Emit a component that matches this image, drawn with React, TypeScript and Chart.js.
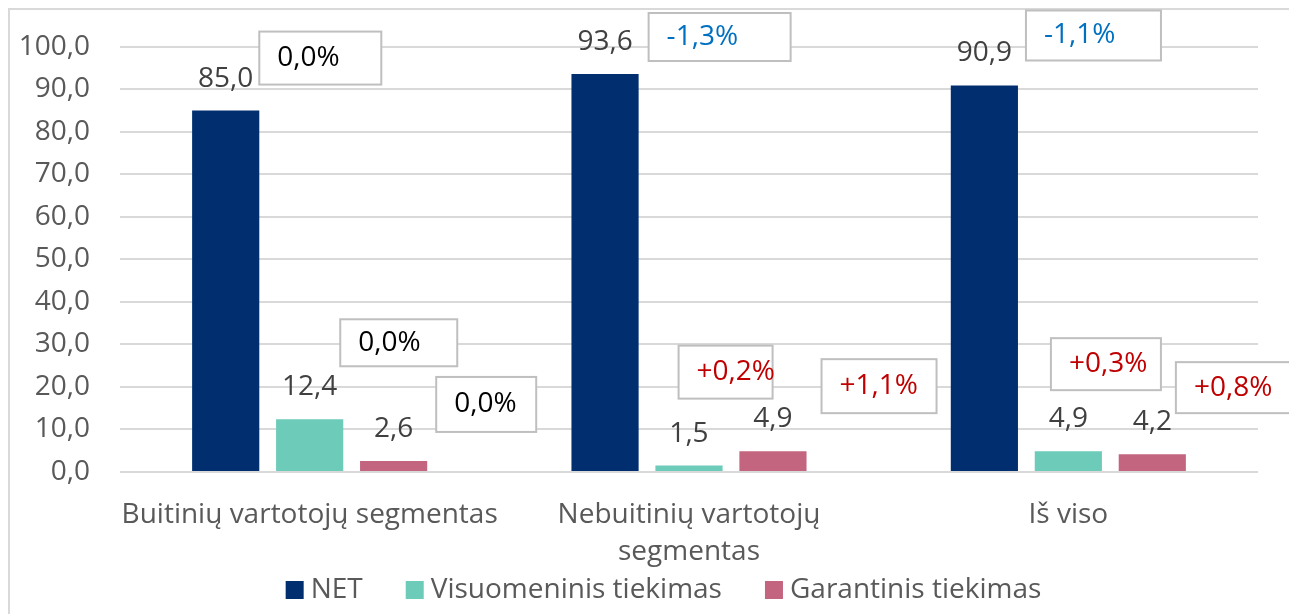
import React, { useEffect, useRef } from "react";
import { Chart, registerables } from "chart.js";

Chart.register(...registerables);

const categories: string[][] = [
  ["Buitinių vartotojų segmentas"],
  ["Nebuitinių vartotojų", "segmentas"],
  ["Iš viso"],
];
const seriesNames = ["NET", "Visuomeninis tiekimas", "Garantinis tiekimas"];
const netValues = [85.0, 93.6, 90.9];
const visValues = [12.4, 1.5, 4.9];
const garValues = [2.6, 4.9, 4.2];
const netChanges = ["0,0%", "-1,3%", "-1,1%"];
const visChanges = ["0,0%", "+0,2%", "+0,3%"];
const garChanges = ["0,0%", "+1,1%", "+0,8%"];
const yTickValues = [0, 10, 20, 30, 40, 50, 60, 70, 80, 90, 100];

const COLORS = ["#002E6E", "#6DCBB9", "#C46580"];
const FONT = "'Open Sans', sans-serif";
const FS = 28;

// annotation box placement relative to each bar's top-right corner (per series, per category)
const boxLayout = [
  [
    { dx: 0, dy: -79, w: 122, h: 53 },
    { dx: 10, dy: -61, w: 142, h: 48 },
    { dx: 8, dy: -75, w: 135, h: 50 },
  ],
  [
    { dx: -3, dy: -100, w: 117, h: 47 },
    { dx: -44, dy: -120, w: 94, h: 53 },
    { dx: -51, dy: -113, w: 110, h: 52 },
  ],
  [
    { dx: 9, dy: -84, w: 100, h: 55 },
    { dx: 15, dy: -92, w: 115, h: 54 },
    { dx: -10, dy: -92, w: 118, h: 51 },
  ],
];

const changes = [netChanges, visChanges, garChanges];

const fmt = (v: number) => v.toFixed(1).replace(".", ",");

const overlay = {
  id: "overlay",
  beforeDraw(chart: any) {
    const ctx = chart.ctx;
    ctx.save();
    ctx.fillStyle = "#ffffff";
    ctx.fillRect(0, 0, chart.width, chart.height);
    ctx.strokeStyle = "#D9D9D9";
    ctx.lineWidth = 2;
    ctx.strokeRect(9, 9, chart.width + 20, chart.height + 20);
    ctx.restore();
  },
  afterDatasetsDraw(chart: any) {
    const ctx = chart.ctx;
    ctx.save();
    ctx.font = `${FS}px ${FONT}`;
    // value labels
    chart.data.datasets.forEach((ds: any, di: number) => {
      const meta = chart.getDatasetMeta(di);
      meta.data.forEach((bar: any, i: number) => {
        ctx.fillStyle = "#404040";
        ctx.textAlign = "center";
        ctx.textBaseline = "middle";
        ctx.fillText(fmt(ds.data[i]), bar.x, bar.y - 32);
      });
    });
    // change boxes
    chart.data.datasets.forEach((ds: any, di: number) => {
      const meta = chart.getDatasetMeta(di);
      meta.data.forEach((bar: any, i: number) => {
        const L = boxLayout[di][i];
        const right = bar.x + bar.width / 2;
        const bx = right + L.dx;
        const by = bar.y + L.dy;
        ctx.fillStyle = "#ffffff";
        ctx.fillRect(bx, by, L.w, L.h);
        ctx.strokeStyle = "#BFBFBF";
        ctx.lineWidth = 2;
        ctx.strokeRect(bx, by, L.w, L.h);
        const t = changes[di][i];
        ctx.fillStyle = t.startsWith("-") ? "#0070C0" : t.startsWith("+") ? "#C00000" : "#000000";
        ctx.textAlign = "left";
        ctx.textBaseline = "middle";
        ctx.fillText(t, bx + 18, by + L.h / 2);
      });
    });
    // legend
    const box = 18;
    const gapText = 7;
    const gapItem = 43;
    const items = chart.data.datasets.map((ds: any) => ({
      label: ds.label,
      color: ds.backgroundColor,
      w: box + gapText + ctx.measureText(ds.label).width,
    }));
    const total = items.reduce((s: number, it: any) => s + it.w, 0) + gapItem * (items.length - 1);
    let x = chart.width / 2 + 19 - total / 2;
    const y = 590;
    items.forEach((it: any) => {
      ctx.fillStyle = it.color;
      ctx.fillRect(x, y - box / 2, box, box);
      ctx.fillStyle = "#595959";
      ctx.textAlign = "left";
      ctx.textBaseline = "middle";
      ctx.fillText(it.label, x + box + gapText, y);
      x += it.w + gapItem;
    });
    ctx.restore();
  },
};

export default function App() {
  const ref = useRef<HTMLCanvasElement | null>(null);
  useEffect(() => {
    document.body.style.margin = "0";
    if (!ref.current) return;
    const chart = new Chart(ref.current, {
      type: "bar",
      data: {
        labels: categories as any,
        datasets: [
          { label: seriesNames[0], data: netValues, backgroundColor: COLORS[0] },
          { label: seriesNames[1], data: visValues, backgroundColor: COLORS[1] },
          { label: seriesNames[2], data: garValues, backgroundColor: COLORS[2] },
        ].map((d) => ({ ...d, barPercentage: 0.8, categoryPercentage: 0.664 })),
      },
      options: {
        responsive: false,
        animation: false,
        devicePixelRatio: 1,
        layout: { padding: { left: 9, top: 46, right: 31, bottom: 0 } },
        plugins: { legend: { display: false }, tooltip: { enabled: false } },
        scales: {
          x: {
            grid: { display: false },
            border: { display: false },
            ticks: {
              color: "#595959",
              font: { family: FONT, size: FS, lineHeight: 37 / FS },
              padding: 17,
              maxRotation: 0,
              autoSkip: false,
            },
            afterFit: (s: any) => {
              s.height = 142;
            },
          },
          y: {
            min: 0,
            max: 100,
            afterBuildTicks: (s: any) => {
              s.ticks = yTickValues.map((v) => ({ value: v }));
            },
            grid: { color: "#D9D9D9", lineWidth: 2, drawTicks: false },
            border: { display: false },
            ticks: {
              color: "#595959",
              font: { family: FONT, size: FS },
              padding: 30,
              callback: (v: any) => fmt(Number(v)),
            },
            afterFit: (s: any) => {
              s.width = 111;
            },
          },
        },
      },
      plugins: [overlay],
    });
    return () => chart.destroy();
  }, []);
  return (
    <div style={{ width: 1289, height: 614 }}>
      <canvas ref={ref} width={1289} height={614} style={{ display: "block" }} />
    </div>
  );
}
